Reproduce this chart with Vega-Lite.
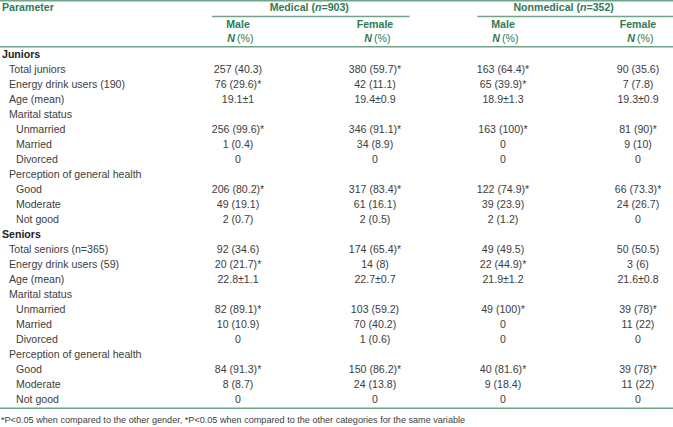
{
  "$schema": "https://vega.github.io/schema/vega-lite/v6.json",
  "width": 673,
  "height": 427,
  "padding": 0,
  "autosize": "none",
  "config": {
    "view": {"stroke": null},
    "text": {"font": "Liberation Sans", "fontSize": 10.6, "baseline": "middle", "color": "#3d3d3d"}
  },
  "datasets": {
    "rows": [
      {"row": 0, "level": 0, "kind": "section", "label": "Juniors", "mm": "", "mf": "", "nm": "", "nf": ""},
      {"row": 1, "level": 1, "kind": "item", "label": "Total juniors", "mm": "257 (40.3)", "mf": "380 (59.7)*", "nm": "163 (64.4)*", "nf": "90 (35.6)"},
      {"row": 2, "level": 1, "kind": "item", "label": "Energy drink users (190)", "mm": "76 (29.6)*", "mf": "42 (11.1)", "nm": "65 (39.9)*", "nf": "7 (7.8)"},
      {"row": 3, "level": 1, "kind": "item", "label": "Age (mean)", "mm": "19.1±1", "mf": "19.4±0.9", "nm": "18.9±1.3", "nf": "19.3±0.9"},
      {"row": 4, "level": 1, "kind": "item", "label": "Marital status", "mm": "", "mf": "", "nm": "", "nf": ""},
      {"row": 5, "level": 2, "kind": "item", "label": "Unmarried", "mm": "256 (99.6)*", "mf": "346 (91.1)*", "nm": "163 (100)*", "nf": "81 (90)*"},
      {"row": 6, "level": 2, "kind": "item", "label": "Married", "mm": "1 (0.4)", "mf": "34 (8.9)", "nm": "0", "nf": "9 (10)"},
      {"row": 7, "level": 2, "kind": "item", "label": "Divorced", "mm": "0", "mf": "0", "nm": "0", "nf": "0"},
      {"row": 8, "level": 1, "kind": "item", "label": "Perception of general health", "mm": "", "mf": "", "nm": "", "nf": ""},
      {"row": 9, "level": 2, "kind": "item", "label": "Good", "mm": "206 (80.2)*", "mf": "317 (83.4)*", "nm": "122 (74.9)*", "nf": "66 (73.3)*"},
      {"row": 10, "level": 2, "kind": "item", "label": "Moderate", "mm": "49 (19.1)", "mf": "61 (16.1)", "nm": "39 (23.9)", "nf": "24 (26.7)"},
      {"row": 11, "level": 2, "kind": "item", "label": "Not good", "mm": "2 (0.7)", "mf": "2 (0.5)", "nm": "2 (1.2)", "nf": "0"},
      {"row": 12, "level": 0, "kind": "section", "label": "Seniors", "mm": "", "mf": "", "nm": "", "nf": ""},
      {"row": 13, "level": 1, "kind": "item", "label": "Total seniors (n=365)", "mm": "92 (34.6)", "mf": "174 (65.4)*", "nm": "49 (49.5)", "nf": "50 (50.5)"},
      {"row": 14, "level": 1, "kind": "item", "label": "Energy drink users (59)", "mm": "20 (21.7)*", "mf": "14 (8)", "nm": "22 (44.9)*", "nf": "3 (6)"},
      {"row": 15, "level": 1, "kind": "item", "label": "Age (mean)", "mm": "22.8±1.1", "mf": "22.7±0.7", "nm": "21.9±1.2", "nf": "21.6±0.8"},
      {"row": 16, "level": 1, "kind": "item", "label": "Marital status", "mm": "", "mf": "", "nm": "", "nf": ""},
      {"row": 17, "level": 2, "kind": "item", "label": "Unmarried", "mm": "82 (89.1)*", "mf": "103 (59.2)", "nm": "49 (100)*", "nf": "39 (78)*"},
      {"row": 18, "level": 2, "kind": "item", "label": "Married", "mm": "10 (10.9)", "mf": "70 (40.2)", "nm": "0", "nf": "11 (22)"},
      {"row": 19, "level": 2, "kind": "item", "label": "Divorced", "mm": "0", "mf": "1 (0.6)", "nm": "0", "nf": "0"},
      {"row": 20, "level": 1, "kind": "item", "label": "Perception of general health", "mm": "", "mf": "", "nm": "", "nf": ""},
      {"row": 21, "level": 2, "kind": "item", "label": "Good", "mm": "84 (91.3)*", "mf": "150 (86.2)*", "nm": "40 (81.6)*", "nf": "39 (78)*"},
      {"row": 22, "level": 2, "kind": "item", "label": "Moderate", "mm": "8 (8.7)", "mf": "24 (13.8)", "nm": "9 (18.4)", "nf": "11 (22)"},
      {"row": 23, "level": 2, "kind": "item", "label": "Not good", "mm": "0", "mf": "0", "nm": "0", "nf": "0"}
    ],
    "groups": [
      {"col": 3.5, "pre": "Medical (", "n": "n", "post": "=903)"},
      {"col": 5.5, "pre": "Nonmedical (", "n": "n", "post": "=352)"}
    ],
    "subs": [
      {"col": 3, "sex": "Male"},
      {"col": 4, "sex": "Female"},
      {"col": 5, "sex": "Male"},
      {"col": 6, "sex": "Female"}
    ]
  },
  "data": {"name": "rows"},
  "layer": [
    {
      "data": {"values": [{}]},
      "mark": {"type": "rule", "color": "#6fa487", "strokeWidth": 1.5},
      "encoding": {
        "x": {"datum": -1, "type": "quantitative", "scale": {"domain": [-1, 0, 1, 2, 3, 3.5, 4, 5, 5.5, 6, 7], "range": [0, 2, 9, 16, 238, 311, 375, 503, 576, 638, 673], "nice": false, "zero": false}, "axis": null},
        "x2": {"datum": 7},
        "y": {"datum": -3.62, "type": "quantitative", "scale": {"domain": [-3.6667, 24.8], "range": [0, 427], "nice": false, "zero": false}, "axis": null}
      }
    },
    {
      "data": {"values": [{}]},
      "mark": {"type": "rule", "color": "#6fa487", "strokeWidth": 1.5},
      "encoding": {
        "x": {"datum": 2.883, "type": "quantitative"},
        "x2": {"datum": 4.27},
        "y": {"datum": -2.567, "type": "quantitative"}
      }
    },
    {
      "data": {"values": [{}]},
      "mark": {"type": "rule", "color": "#6fa487", "strokeWidth": 1.5},
      "encoding": {
        "x": {"datum": 4.8, "type": "quantitative"},
        "x2": {"datum": 7},
        "y": {"datum": -2.567, "type": "quantitative"}
      }
    },
    {
      "data": {"values": [{}]},
      "mark": {"type": "rule", "color": "#6fa487", "strokeWidth": 1.5},
      "encoding": {
        "x": {"datum": -1, "type": "quantitative"},
        "x2": {"datum": 7},
        "y": {"datum": -0.55, "type": "quantitative"}
      }
    },
    {
      "data": {"values": [{}]},
      "mark": {"type": "rule", "color": "#6fa487", "strokeWidth": 1.5},
      "encoding": {
        "x": {"datum": -1, "type": "quantitative"},
        "x2": {"datum": 7},
        "y": {"datum": 23.55, "type": "quantitative"}
      }
    },
    {
      "data": {"values": [{}]},
      "mark": {"type": "text", "align": "left", "fontWeight": "bold", "color": "#2f7a55"},
      "encoding": {
        "x": {"datum": 0, "type": "quantitative"},
        "y": {"datum": -3.133, "type": "quantitative"},
        "text": {"value": "Parameter"}
      }
    },
    {
      "data": {"name": "groups"},
      "mark": {"type": "text", "align": "right", "fontWeight": "bold", "color": "#2f7a55", "dx": 4},
      "encoding": {
        "x": {"field": "col", "type": "quantitative"},
        "y": {"datum": -3.133, "type": "quantitative"},
        "text": {"field": "pre"}
      }
    },
    {
      "data": {"name": "groups"},
      "mark": {"type": "text", "align": "left", "fontWeight": "bold", "fontStyle": "italic", "color": "#2f7a55", "dx": 4},
      "encoding": {
        "x": {"field": "col", "type": "quantitative"},
        "y": {"datum": -3.133, "type": "quantitative"},
        "text": {"field": "n"}
      }
    },
    {
      "data": {"name": "groups"},
      "mark": {"type": "text", "align": "left", "fontWeight": "bold", "color": "#2f7a55", "dx": 10.5},
      "encoding": {
        "x": {"field": "col", "type": "quantitative"},
        "y": {"datum": -3.133, "type": "quantitative"},
        "text": {"field": "post"}
      }
    },
    {
      "data": {"name": "subs"},
      "mark": {"type": "text", "align": "center", "fontWeight": "bold", "color": "#2f7a55"},
      "encoding": {
        "x": {"field": "col", "type": "quantitative"},
        "y": {"datum": -2.0, "type": "quantitative"},
        "text": {"field": "sex"}
      }
    },
    {
      "data": {"name": "subs"},
      "mark": {"type": "text", "align": "right", "fontWeight": "bold", "fontStyle": "italic", "color": "#2f7a55", "dx": -3},
      "encoding": {
        "x": {"field": "col", "type": "quantitative"},
        "y": {"datum": -1.07, "type": "quantitative"},
        "text": {"value": "N"}
      }
    },
    {
      "data": {"name": "subs"},
      "mark": {"type": "text", "align": "left", "color": "#2f7a55", "dx": -1},
      "encoding": {
        "x": {"field": "col", "type": "quantitative"},
        "y": {"datum": -1.07, "type": "quantitative"},
        "text": {"value": "(%)"}
      }
    },
    {
      "transform": [{"filter": "datum.kind === 'section'"}],
      "mark": {"type": "text", "align": "left", "fontWeight": "bold", "color": "#222222"},
      "encoding": {
        "x": {"field": "level", "type": "quantitative"},
        "y": {"field": "row", "type": "quantitative"},
        "text": {"field": "label"}
      }
    },
    {
      "transform": [{"filter": "datum.kind === 'item'"}],
      "mark": {"type": "text", "align": "left"},
      "encoding": {
        "x": {"field": "level", "type": "quantitative"},
        "y": {"field": "row", "type": "quantitative"},
        "text": {"field": "label"}
      }
    },
    {
      "mark": {"type": "text", "align": "center"},
      "encoding": {
        "x": {"datum": 3, "type": "quantitative"},
        "y": {"field": "row", "type": "quantitative"},
        "text": {"field": "mm"}
      }
    },
    {
      "mark": {"type": "text", "align": "center"},
      "encoding": {
        "x": {"datum": 4, "type": "quantitative"},
        "y": {"field": "row", "type": "quantitative"},
        "text": {"field": "mf"}
      }
    },
    {
      "mark": {"type": "text", "align": "center"},
      "encoding": {
        "x": {"datum": 5, "type": "quantitative"},
        "y": {"field": "row", "type": "quantitative"},
        "text": {"field": "nm"}
      }
    },
    {
      "mark": {"type": "text", "align": "center"},
      "encoding": {
        "x": {"datum": 6, "type": "quantitative"},
        "y": {"field": "row", "type": "quantitative"},
        "text": {"field": "nf"}
      }
    },
    {
      "data": {"values": [{}]},
      "mark": {"type": "text", "align": "left", "fontSize": 9.1, "dx": -1},
      "encoding": {
        "x": {"datum": 0, "type": "quantitative"},
        "y": {"datum": 24.3, "type": "quantitative"},
        "text": {"value": "*P<0.05 when compared to the other gender, *P<0.05 when compared to the other categories for the same variable"}
      }
    }
  ]
}
